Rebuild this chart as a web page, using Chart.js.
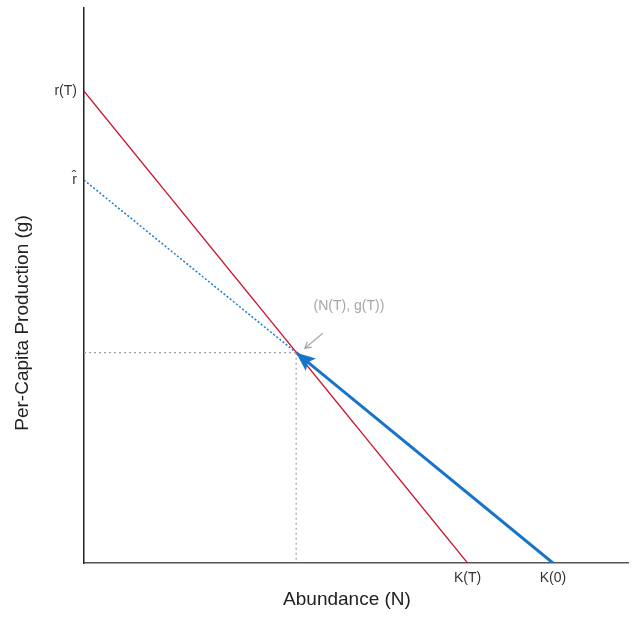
<!DOCTYPE html>
<html>
<head>
<meta charset="utf-8">
<script src="https://cdn.jsdelivr.net/npm/chart.js@4.4.0/dist/chart.umd.min.js"></script>
<style>
  html, body { margin: 0; padding: 0; background: #fff; }
  #wrap { width: 633px; height: 643px; }
</style>
</head>
<body>
<div id="wrap"><canvas id="chart"></canvas></div>
<script>
// model values (arbitrary units)
const rT = 8.5;      // r(T), intercept of red line
const rHat = 6.9;    // r-hat, intercept of blue line
const KT = 7.05;     // K(T)
const K0 = 8.62;     // K(0)
const NT = 3.9;      // N(T)
const gT = 3.79;     // g(T)

const xTickValues = [KT, K0];
const xTickLabels = ['K(T)', 'K(0)'];
const yTickValues = [rHat, rT];
const yTickLabels = ['r\u0302', 'r(T)'];

const labelPoint = { x: 4.87, y: 4.63, text: '(N(T), g(T))' };
const labelArrow = { from: [4.39, 4.14], to: [4.06, 3.87] };

const redLine = [{ x: 0, y: rT }, { x: KT, y: 0 }];
const blueDotted = [{ x: 0, y: rHat }, { x: NT, y: gT }];
const blueArrow = [{ x: K0, y: 0 }, { x: NT, y: gT }];
const guideH = [{ x: 0, y: gT }, { x: NT, y: gT }];
const guideV = [{ x: NT, y: gT }, { x: NT, y: 0 }];

const FONT = 'Liberation Sans, Arial, Helvetica, sans-serif';

const extras = {
  id: 'extras',
  afterDatasetsDraw(chart) {
    const { ctx, scales: { x, y } } = chart;
    // filled arrowhead on blue arrow
    const tx = x.getPixelForValue(NT), ty = y.getPixelForValue(gT);
    const sx = x.getPixelForValue(K0), sy = y.getPixelForValue(0);
    const ang = Math.atan2(ty - sy, tx - sx);
    const len = 19, half = 8;
    ctx.save();
    ctx.fillStyle = '#1874c9';
    ctx.translate(tx, ty);
    ctx.rotate(ang);
    ctx.beginPath();
    ctx.moveTo(0, 0);
    ctx.lineTo(-len, -half);
    ctx.lineTo(-len * 0.8, 0);
    ctx.lineTo(-len, half);
    ctx.closePath();
    ctx.fill();
    ctx.restore();

    // annotation arrow
    const ax1 = x.getPixelForValue(labelArrow.from[0]), ay1 = y.getPixelForValue(labelArrow.from[1]);
    const ax2 = x.getPixelForValue(labelArrow.to[0]), ay2 = y.getPixelForValue(labelArrow.to[1]);
    const a2 = Math.atan2(ay2 - ay1, ax2 - ax1);
    ctx.save();
    ctx.strokeStyle = '#a6a6a6';
    ctx.lineWidth = 1.2;
    ctx.beginPath();
    ctx.moveTo(ax1, ay1);
    ctx.lineTo(ax2, ay2);
    ctx.stroke();
    ctx.translate(ax2, ay2);
    ctx.rotate(a2);
    ctx.beginPath();
    ctx.moveTo(-6, -3.5);
    ctx.lineTo(0, 0);
    ctx.lineTo(-6, 3.5);
    ctx.stroke();
    ctx.restore();

    ctx.save();
    ctx.fillStyle = '#a6a6a6';
    ctx.font = '14px ' + FONT;
    ctx.textAlign = 'center';
    ctx.textBaseline = 'middle';
    ctx.fillText(labelPoint.text, x.getPixelForValue(labelPoint.x), y.getPixelForValue(labelPoint.y));
    ctx.restore();
  },
  afterDraw(chart) {
    const { ctx } = chart;
    ctx.save();
    ctx.fillStyle = '#222';
    ctx.font = '19px ' + FONT;
    ctx.textAlign = 'center';
    ctx.textBaseline = 'middle';
    ctx.fillText('Abundance (N)', 347, 600);
    ctx.translate(23, 323);
    ctx.rotate(-Math.PI / 2);
    ctx.fillText('Per-Capita Production (g)', 0, 0);
    ctx.restore();
  }
};

new Chart(document.getElementById('chart'), {
  type: 'line',
  data: {
    datasets: [
      { data: guideH, borderColor: '#a0a0a0', borderWidth: 1.2, borderDash: [2, 3] },
      { data: guideV, borderColor: '#a0a0a0', borderWidth: 1.2, borderDash: [2, 3] },
      { data: blueDotted, borderColor: '#1f7ad0', borderWidth: 1.5, borderDash: [2, 2] },
      { data: redLine, borderColor: '#c8102e', borderWidth: 1.2 },
      { data: blueArrow, borderColor: '#1874c9', borderWidth: 3 }
    ]
  },
  options: {
    responsive: true,
    maintainAspectRatio: false,
    animation: false,
    layout: { padding: { top: 8, right: 5, left: 0, bottom: 0 } },
    elements: { point: { radius: 0 }, line: { tension: 0 } },
    plugins: { legend: { display: false }, tooltip: { enabled: false } },
    scales: {
      x: {
        type: 'linear',
        min: 0,
        max: 10,
        grid: { display: false, drawTicks: false },
        border: { display: true, color: '#555', width: 1.5 },
        afterBuildTicks: (axis) => { axis.ticks = xTickValues.map(v => ({ value: v })); },
        afterFit: (axis) => { axis.height = 80; axis.paddingLeft = 0; axis.paddingRight = 0; },
        ticks: {
          padding: 7,
          color: '#333',
          font: { family: FONT, size: 14 },
          callback: (v) => xTickLabels[xTickValues.indexOf(v)]
        }
      },
      y: {
        type: 'linear',
        min: 0,
        max: 10,
        grid: { display: false, drawTicks: false },
        border: { display: true, color: '#222', width: 1.5 },
        afterBuildTicks: (axis) => { axis.ticks = yTickValues.map(v => ({ value: v })); },
        afterFit: (axis) => { axis.width = 84; axis.paddingTop = 0; axis.paddingBottom = 0; },
        ticks: {
          padding: 7,
          color: '#333',
          font: { family: FONT, size: 14 },
          callback: (v) => yTickLabels[yTickValues.indexOf(v)]
        }
      }
    }
  },
  plugins: [extras]
});
</script>
</body>
</html>
